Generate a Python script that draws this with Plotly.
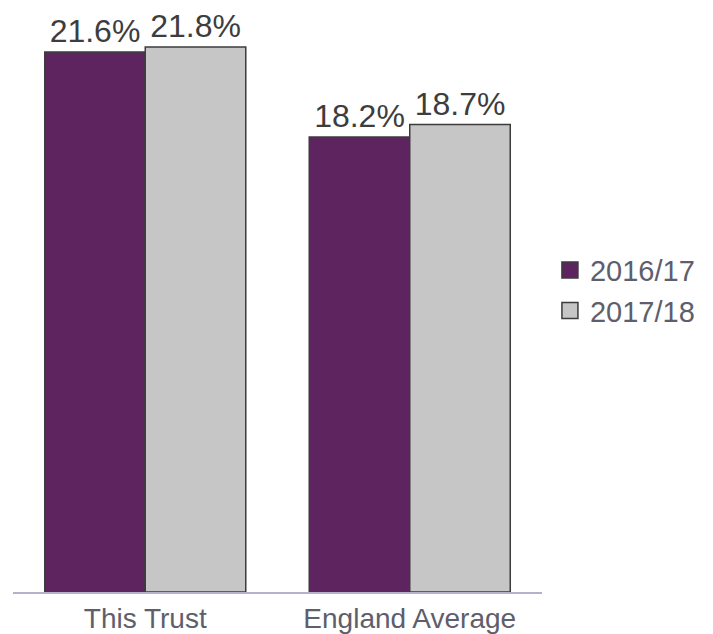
import plotly.graph_objects as go

# Categories and yearly percentages
categories = ["This Trust", "England Average"]
series_names = ["2016/17", "2017/18"]
values_2016_17 = [21.6, 18.2]
values_2017_18 = [21.8, 18.7]

fills = ["#5d2460", "#c6c6c6"]
outline = "#3c3c3c"
font_family = "Arial, 'Liberation Sans', sans-serif"
label_grey = "#5e5e6c"

fig = go.Figure()
for name, vals, col in zip(series_names, [values_2016_17, values_2017_18], fills):
    fig.add_trace(go.Bar(
        x=categories,
        y=vals,
        name=name,
        showlegend=False,
        marker=dict(color=col, line=dict(color=outline, width=1.5)),
        texttemplate="%{y:.1f}%",
        textposition="outside",
        constraintext="none",
        cliponaxis=False,
        textfont=dict(size=32, color="#3d3d3d", family=font_family),
    ))

# Legend entries with larger square swatches
for name, col in zip(series_names, fills):
    fig.add_trace(go.Scatter(
        x=[None], y=[None],
        mode="markers",
        name=name,
        marker=dict(symbol="square", size=16, color=col,
                    line=dict(color=outline, width=1.5)),
    ))

fig.update_layout(
    width=713,
    height=634,
    margin=dict(l=13, r=171, t=20, b=42),
    paper_bgcolor="white",
    plot_bgcolor="white",
    barmode="group",
    bargap=0.24,
    bargroupgap=0,
    font=dict(family=font_family),
    showlegend=True,
    legend=dict(
        x=1.015, y=0.527, xanchor="left", yanchor="middle",
        font=dict(size=29, color=label_grey, family=font_family),
        itemwidth=30,
        tracegroupgap=0,
        bgcolor="rgba(0,0,0,0)",
    ),
    xaxis=dict(
        showline=True,
        linecolor="#b3b1d0",
        linewidth=2,
        ticks="",
        showgrid=False,
        automargin=False,
        tickfont=dict(size=28, color=label_grey, family=font_family),
    ),
    yaxis=dict(
        range=[0, 22.88],
        visible=False,
        showgrid=False,
        zeroline=False,
    ),
)

fig.write_html("out.html")
